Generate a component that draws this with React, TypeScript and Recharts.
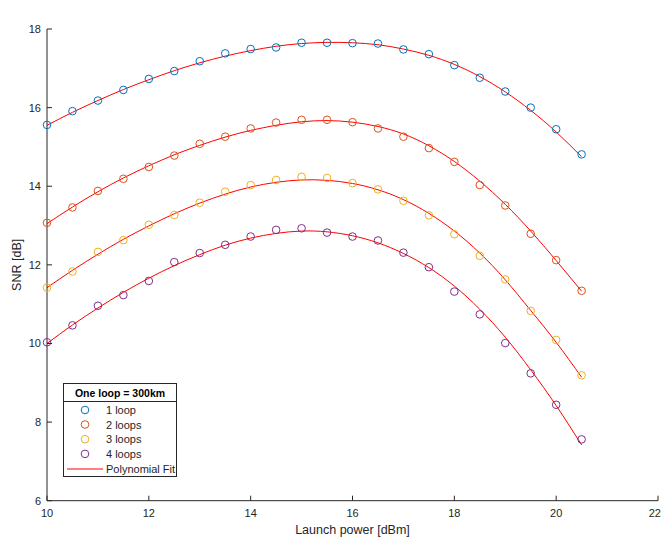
import { ComposedChart, Line, XAxis, YAxis } from 'recharts';

// launch power sweep [dBm]
const launchPower = [10, 10.5, 11, 11.5, 12, 12.5, 13, 13.5, 14, 14.5, 15, 15.5, 16, 16.5, 17, 17.5, 18, 18.5, 19, 19.5, 20, 20.5];

// measured SNR [dB]
const loop1 = [15.56, 15.91, 16.18, 16.45, 16.73, 16.93, 17.18, 17.38, 17.49, 17.53, 17.65, 17.65, 17.64, 17.63, 17.48, 17.36, 17.08, 16.76, 16.41, 16.0, 15.45, 14.81];
const loop2 = [13.07, 13.46, 13.88, 14.19, 14.49, 14.78, 15.08, 15.26, 15.47, 15.62, 15.69, 15.69, 15.63, 15.47, 15.26, 14.97, 14.62, 14.03, 13.51, 12.79, 12.12, 11.34];
const loop3 = [11.42, 11.83, 12.33, 12.63, 13.02, 13.27, 13.58, 13.86, 14.03, 14.16, 14.24, 14.21, 14.08, 13.92, 13.63, 13.26, 12.78, 12.23, 11.63, 10.83, 10.09, 9.19];
const loop4 = [10.03, 10.46, 10.96, 11.23, 11.59, 12.07, 12.3, 12.51, 12.72, 12.89, 12.93, 12.82, 12.72, 12.62, 12.31, 11.94, 11.32, 10.74, 10.01, 9.24, 8.44, 7.56];

// polynomial fit
const fit1 = [15.55, 15.88, 16.18, 16.46, 16.71, 16.94, 17.14, 17.31, 17.45, 17.56, 17.63, 17.66, 17.65, 17.6, 17.49, 17.33, 17.1, 16.79, 16.4, 15.93, 15.38, 14.75];
const fit2 = [13.05, 13.47, 13.86, 14.21, 14.52, 14.8, 15.04, 15.25, 15.42, 15.55, 15.64, 15.67, 15.63, 15.52, 15.33, 15.03, 14.63, 14.13, 13.54, 12.86, 12.11, 11.33];
const fit3 = [11.42, 11.86, 12.27, 12.65, 12.99, 13.3, 13.57, 13.8, 13.98, 14.1, 14.16, 14.15, 14.07, 13.91, 13.66, 13.31, 12.86, 12.3, 11.62, 10.84, 10.03, 9.14];
const fit4 = [10.0, 10.47, 10.9, 11.3, 11.66, 11.98, 12.26, 12.5, 12.68, 12.8, 12.86, 12.84, 12.74, 12.56, 12.29, 11.93, 11.46, 10.87, 10.16, 9.33, 8.42, 7.42];

const xTicks = [10, 12, 14, 16, 18, 20, 22];
const yTicks = [6, 8, 10, 12, 14, 16, 18];
const loopNames = ['1 loop', '2 loops', '3 loops', '4 loops'];
const loopColors = ['#0072BD', '#D95319', '#EDB120', '#7E2F8E'];

const data = launchPower.map((p, i) => ({
  p,
  loop1: loop1[i],
  loop2: loop2[i],
  loop3: loop3[i],
  loop4: loop4[i],
  fit1: fit1[i],
  fit2: fit2[i],
  fit3: fit3[i],
  fit4: fit4[i],
}));

const AXIS = '#262626';
const FONT = '"Liberation Sans", Arial, Helvetica, sans-serif';

function BottomTick({ x, y, payload }: any) {
  // last label sits on the page edge, keep it inside
  const last = payload.value === xTicks[xTicks.length - 1];
  return (
    <g>
      <line x1={x} x2={x} y1={y} y2={y - 5} stroke={AXIS} />
      <text
        x={last ? Math.min(x + 3, 661) : x}
        y={y + 16.5}
        textAnchor={last ? 'end' : 'middle'}
        fontSize={11}
        fill={AXIS}
      >
        {payload.value}
      </text>
    </g>
  );
}

function TopTick({ x, y }: any) {
  return <line x1={x} x2={x} y1={y} y2={y + 5} stroke={AXIS} />;
}

function LeftTick({ x, y, payload }: any) {
  return (
    <g>
      <line x1={x} x2={x + 5} y1={y} y2={y} stroke={AXIS} />
      <text x={x - 6} y={y + 4} textAnchor="end" fontSize={11} fill={AXIS}>{payload.value}</text>
    </g>
  );
}

function RightTick({ x, y }: any) {
  return <line x1={x} x2={x - 5} y1={y} y2={y} stroke={AXIS} />;
}

function LegendBox() {
  const rows = [27, 41.5, 56.2, 70.9];
  return (
    <svg
      width={115}
      height={95}
      style={{ position: 'absolute', left: 63, top: 383, fontFamily: FONT }}
    >
      <rect x={0.5} y={0.5} width={113} height={93} fill="#fff" stroke={AXIS} />
      <line x1={0.5} x2={113.5} y1={18.5} y2={18.5} stroke={AXIS} />
      <text x={57} y={13.5} textAnchor="middle" fontSize={10.5} fontWeight="bold" fill="#000">One loop = 300km</text>
      {loopNames.map((name, i) => (
        <g key={name}>
          <circle cx={22} cy={rows[i]} r={3.8} fill="none" stroke={loopColors[i]} />
          <text x={43} y={rows[i] + 4} fontSize={11} fill={AXIS}>{name}</text>
        </g>
      ))}
      <line x1={4} x2={40} y1={86} y2={86} stroke="#FF0000" />
      <text x={43} y={90} fontSize={11} fill={AXIS}>Polynomial Fit</text>
    </svg>
  );
}

export default function App() {
  const markerKeys = ['loop1', 'loop2', 'loop3', 'loop4'];
  const fitKeys = ['fit1', 'fit2', 'fit3', 'fit4'];

  return (
    <div style={{ position: 'absolute', left: 0, top: 0, width: 662, height: 538, background: '#fff', fontFamily: FONT }}>
      <ComposedChart width={662} height={538} data={data} margin={{ top: 29, right: 4, bottom: 0, left: 0 }}>
        <XAxis
          dataKey="p"
          type="number"
          domain={[10, 22]}
          ticks={xTicks}
          interval={0}
          height={37.3}
          tickSize={0}
          tickMargin={0}
          tickLine={false}
          stroke={AXIS}
          tick={<BottomTick />}
          label={({ viewBox }: any) => (
            <text x={viewBox.x + viewBox.width / 2} y={534} textAnchor="middle" fontSize={12.5} fill={AXIS}>
              Launch power [dBm]
            </text>
          )}
        />
        <XAxis
          xAxisId="top"
          dataKey="p"
          type="number"
          orientation="top"
          domain={[10, 22]}
          ticks={xTicks}
          interval={0}
          height={0}
          tickSize={0}
          tickMargin={0}
          tickLine={false}
          stroke={AXIS}
          tick={<TopTick />}
          label={({ viewBox }: any) => (
            <text x={viewBox.x + viewBox.width / 2} y={21.5} textAnchor="middle" fontSize={11.5} fontWeight="bold" fill="#000">
              Bell Curves
            </text>
          )}
        />
        <YAxis
          type="number"
          domain={[6, 18]}
          ticks={yTicks}
          interval={0}
          width={47}
          tickSize={0}
          tickMargin={0}
          tickLine={false}
          stroke={AXIS}
          tick={<LeftTick />}
          label={({ viewBox }: any) => {
            const cy = viewBox.y + viewBox.height / 2;
            return (
              <text x={21} y={cy} transform={`rotate(-90 21 ${cy})`} textAnchor="middle" fontSize={12.5} fill={AXIS}>
                SNR [dB]
              </text>
            );
          }}
        />
        <YAxis
          yAxisId="right"
          orientation="right"
          type="number"
          domain={[6, 18]}
          ticks={yTicks}
          interval={0}
          width={0}
          tickSize={0}
          tickMargin={0}
          tickLine={false}
          stroke={AXIS}
          tick={<RightTick />}
        />
        {markerKeys.map((k, i) => (
          <Line
            key={k}
            dataKey={k}
            stroke="none"
            dot={{ r: 3.8, fill: 'none', stroke: loopColors[i], strokeWidth: 1 }}
            activeDot={false}
            isAnimationActive={false}
          />
        ))}
        {fitKeys.map((k) => (
          <Line
            key={k}
            dataKey={k}
            type="natural"
            stroke="#FF0000"
            strokeWidth={1}
            dot={false}
            activeDot={false}
            isAnimationActive={false}
          />
        ))}
      </ComposedChart>
      <LegendBox />
    </div>
  );
}
